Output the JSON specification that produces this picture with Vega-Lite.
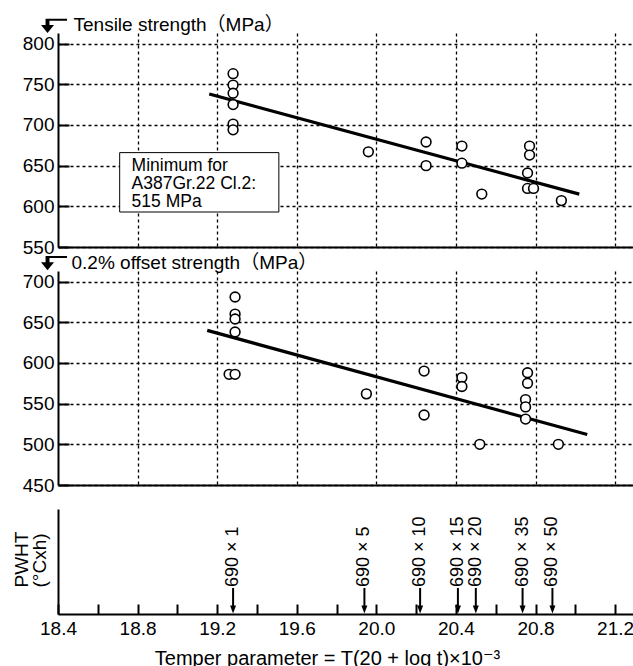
{
  "$schema": "https://vega.github.io/schema/vega-lite/v6.json",
  "background": "white",
  "padding": {"left": 12, "top": 15, "right": 0, "bottom": 0},
  "spacing": 24,
  "bounds": "flush",
  "config": {
    "view": {"stroke": null},
    "font": "Liberation Sans",
    "axis": {
      "labelFont": "Liberation Sans",
      "titleFont": "Liberation Sans, DejaVu Sans, Noto Sans CJK JP",
      "labelColor": "black",
      "titleColor": "black",
      "domainColor": "black",
      "tickColor": "black",
      "titleFontWeight": "normal",
      "gridColor": "black",
      "gridOpacity": 1,
      "gridDash": [3, 3],
      "gridWidth": 1.3,
      "labelFlush": false
    }
  },
  "datasets": {
    "tensile": [
      {"tp": 19.28, "mpa": 763}, {"tp": 19.28, "mpa": 749}, {"tp": 19.28, "mpa": 739},
      {"tp": 19.28, "mpa": 725}, {"tp": 19.28, "mpa": 701}, {"tp": 19.28, "mpa": 694},
      {"tp": 19.96, "mpa": 667}, {"tp": 20.25, "mpa": 679}, {"tp": 20.25, "mpa": 650},
      {"tp": 20.43, "mpa": 674}, {"tp": 20.43, "mpa": 653}, {"tp": 20.53, "mpa": 615},
      {"tp": 20.77, "mpa": 674}, {"tp": 20.77, "mpa": 663}, {"tp": 20.76, "mpa": 641},
      {"tp": 20.76, "mpa": 622}, {"tp": 20.79, "mpa": 622}, {"tp": 20.93, "mpa": 607}
    ],
    "offset": [
      {"tp": 19.29, "mpa": 681}, {"tp": 19.29, "mpa": 660}, {"tp": 19.29, "mpa": 654},
      {"tp": 19.29, "mpa": 638}, {"tp": 19.26, "mpa": 586}, {"tp": 19.29, "mpa": 586},
      {"tp": 19.95, "mpa": 562}, {"tp": 20.24, "mpa": 590}, {"tp": 20.24, "mpa": 536},
      {"tp": 20.43, "mpa": 582}, {"tp": 20.43, "mpa": 571}, {"tp": 20.52, "mpa": 500},
      {"tp": 20.76, "mpa": 588}, {"tp": 20.76, "mpa": 575}, {"tp": 20.75, "mpa": 555},
      {"tp": 20.75, "mpa": 546}, {"tp": 20.75, "mpa": 531}, {"tp": 20.915, "mpa": 500}
    ],
    "fitTensile": [{"tp": 19.16, "mpa": 738}, {"tp": 21.02, "mpa": 615}],
    "fitOffset": [{"tp": 19.15, "mpa": 640}, {"tp": 21.06, "mpa": 512}],
    "noteBox": [{"tp": 18.71, "tp2": 19.51, "mpa": 666, "mpa2": 593}],
    "noteText": [{"tp": 18.77, "mpa": 644, "note": "Minimum for\nA387Gr.22 Cl.2:\n515 MPa"}],
    "offsetCorner": [{"tp": 18.38, "mpa": 722.5}],
    "pwht": [
      {"tp": 19.28, "label": "690 × 1"},
      {"tp": 19.94, "label": "690 × 5"},
      {"tp": 20.22, "label": "690 × 10"},
      {"tp": 20.41, "label": "690 × 15"},
      {"tp": 20.5, "label": "690 × 20"},
      {"tp": 20.735, "label": "690 × 35"},
      {"tp": 20.885, "label": "690 × 50"}
    ]
  },
  "vconcat": [
    {
      "width": 575,
      "height": 214,
      "encoding": {
        "x": {
          "field": "tp", "type": "quantitative",
          "scale": {"domain": [18.4, 21.29], "nice": false, "zero": false},
          "axis": {
            "title": null, "labels": false, "ticks": false, "domainWidth": 2.2,
            "grid": true, "values": [18.8, 19.2, 19.6, 20.0, 20.4, 20.8, 21.2]
          }
        },
        "y": {
          "field": "mpa", "type": "quantitative",
          "scale": {"domain": [550, 813], "nice": false, "zero": false},
          "axis": {
            "values": [550, 600, 650, 700, 750, 800],
            "grid": true, "domainWidth": 2, "tickSize": -11, "tickWidth": 2,
            "labelFontSize": 19, "labelPadding": 15,
            "title": "Tensile strength（MPa）", "titleFontSize": 19,
            "titleAngle": 0, "titleAlign": "left", "titleBaseline": "alphabetic",
            "titleX": 15, "titleY": -3
          }
        }
      },
      "layer": [
        {"data": {"name": "fitTensile"}, "mark": {"type": "line", "color": "black", "strokeWidth": 3.2}},
        {"data": {"name": "tensile"}, "mark": {"type": "point", "shape": "circle", "size": 95, "filled": true, "fill": "white", "stroke": "black", "strokeWidth": 1.6, "opacity": 1}},
        {"data": {"name": "noteBox"}, "mark": {"type": "rect", "fill": "white", "stroke": "black", "strokeWidth": 1},
          "encoding": {"x2": {"field": "tp2"}, "y2": {"field": "mpa2"}}},
        {"data": {"name": "noteText"}, "mark": {"type": "text", "align": "left", "baseline": "alphabetic", "fontSize": 17.5, "lineHeight": 18, "lineBreak": "\n", "color": "black"},
          "encoding": {"text": {"field": "note"}}},
        {"data": {"name": "noteText"},
          "mark": {"type": "point", "shape": "M-1,-0.08L0,-0.08L-0.5,0.54Z M-0.65,-0.55L-0.35,-0.55L-0.35,-0.05L-0.65,-0.05Z M-0.65,-0.55L1,-0.55L1,-0.4L-0.65,-0.4Z", "size": 676, "filled": true, "fill": "black", "opacity": 1},
          "encoding": {"x": {"datum": 18.38, "type": "quantitative"}, "y": {"datum": 821.6, "type": "quantitative"}}}
      ]
    },
    {
      "width": 575,
      "height": 214,
      "encoding": {
        "x": {
          "field": "tp", "type": "quantitative",
          "scale": {"domain": [18.4, 21.29], "nice": false, "zero": false},
          "axis": {
            "title": null, "labels": false, "ticks": false, "domainWidth": 2.2,
            "grid": true, "values": [18.8, 19.2, 19.6, 20.0, 20.4, 20.8, 21.2]
          }
        },
        "y": {
          "field": "mpa", "type": "quantitative",
          "scale": {"domain": [450, 713], "nice": false, "zero": false},
          "axis": {
            "values": [450, 500, 550, 600, 650, 700],
            "grid": true, "domainWidth": 2, "tickSize": -11, "tickWidth": 2,
            "labelFontSize": 19, "labelPadding": 15,
            "title": "0.2% offset strength（MPa）", "titleFontSize": 19,
            "titleAngle": 0, "titleAlign": "left", "titleBaseline": "alphabetic",
            "titleX": 13, "titleY": -3
          }
        }
      },
      "layer": [
        {"data": {"name": "fitOffset"}, "mark": {"type": "line", "color": "black", "strokeWidth": 3.2}},
        {"data": {"name": "offset"}, "mark": {"type": "point", "shape": "circle", "size": 95, "filled": true, "fill": "white", "stroke": "black", "strokeWidth": 1.6, "opacity": 1}},
        {"data": {"name": "offsetCorner"},
          "mark": {"type": "point", "shape": "M-1,-0.08L0,-0.08L-0.5,0.54Z M-0.65,-0.55L-0.35,-0.55L-0.35,-0.05L-0.65,-0.05Z M-0.65,-0.55L1,-0.55L1,-0.4L-0.65,-0.4Z", "size": 676, "filled": true, "fill": "black", "opacity": 1}}
      ]
    },
    {
      "width": 575,
      "height": 105,
      "data": {"name": "pwht"},
      "encoding": {
        "x": {
          "field": "tp", "type": "quantitative",
          "scale": {"domain": [18.4, 21.29], "nice": false, "zero": false},
          "axis": {
            "values": [18.4, 18.6, 18.8, 19.0, 19.2, 19.4, 19.6, 19.8, 20.0, 20.2, 20.4, 20.6, 20.8, 21.0, 21.2],
            "labelExpr": "round(datum.value * 10) % 4 == 0 ? format(datum.value, '.1f') : ''",
            "grid": false, "domainWidth": 2.2, "tickSize": -10, "tickWidth": 2,
            "labelFontSize": 19, "labelPadding": 15,
            "title": "Temper parameter = T(20 + log t)×10⁻³", "titleFontSize": 20,
            "titleBaseline": "alphabetic", "titleY": 50, "titleX": 269, "titleAlign": "center"
          }
        }
      },
      "layer": [
        {
          "mark": {"type": "rule", "color": "black", "strokeWidth": 2},
          "encoding": {
            "y": {"datum": 0.248, "type": "quantitative", "scale": {"domain": [0, 1], "nice": false, "zero": false},
              "axis": {"ticks": false, "labels": false, "grid": false, "domainWidth": 2,
                "title": ["PWHT", "(°Cxh)"], "titleFontSize": 19, "titleLineHeight": 18,
                "titleAngle": -90, "titleAlign": "left", "titleBaseline": "alphabetic",
                "titleX": -31, "titleY": 78}},
            "y2": {"datum": 0.06}
          }
        },
        {
          "mark": {"type": "point", "shape": "M0,1L-0.75,-1L0.75,-1Z", "size": 64, "filled": true, "color": "black", "opacity": 1},
          "encoding": {"y": {"datum": 0.043, "type": "quantitative"}}
        },
        {
          "mark": {"type": "text", "angle": 270, "align": "left", "baseline": "middle", "fontSize": 18, "color": "black"},
          "encoding": {"y": {"datum": 0.257, "type": "quantitative"}, "text": {"field": "label"}}
        }
      ]
    }
  ]
}
